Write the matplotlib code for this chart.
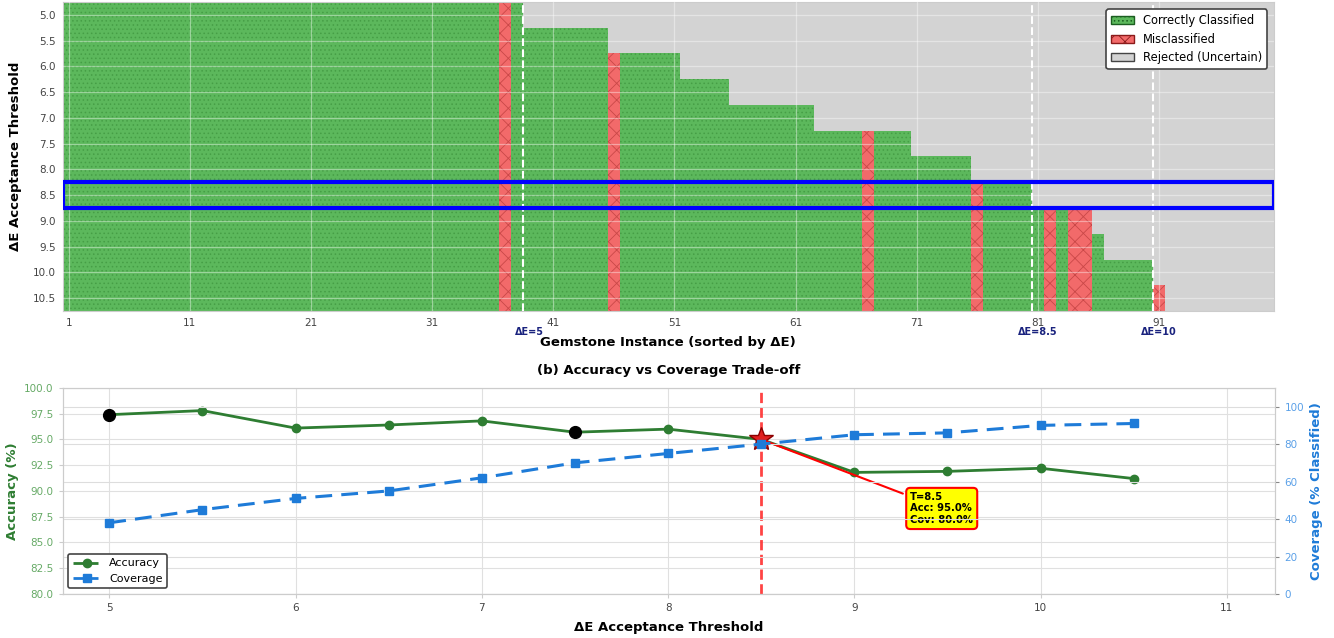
import numpy as np
import matplotlib
matplotlib.use("Agg")
from matplotlib import pyplot
from matplotlib.patches import Patch, Rectangle
from matplotlib.lines import Line2D
from matplotlib.transforms import blended_transform_factory

# -----------------------------------------------------------------------------
# data
thresholds = [5.0, 5.5, 6.0, 6.5, 7.0, 7.5, 8.0, 8.5, 9.0, 9.5, 10.0, 10.5]
n_accepted = [38, 45, 51, 55, 62, 70, 75, 80, 85, 86, 90, 91]
misclassified = [37, 46, 67, 76, 82, 84, 85, 91]
n_instances = 100

accuracy = [97.4, 97.8, 96.1, 96.4, 96.8, 95.7, 96.0, 95.0, 91.8, 91.9, 92.2, 91.2]
coverage = [38, 45, 51, 55, 62, 70, 75, 80, 85, 86, 90, 91]
marked_t = [5.0, 7.5]
marked_acc = [97.4, 95.7]

chosen_t = 8.5
chosen_acc = 95.0
chosen_cov = 80.0
ref_lines = [(38.5, 39, "ΔE=5"), (80.5, 81, "ΔE=8.5"), (90.5, 91, "ΔE=10")]

GREEN = "#5cb85c"
GREEN_H = "#469e46"
RED = "#f26a6a"
RED_H = "#c94848"
GREY = "#d3d3d3"
ACC_C = "#2e7d32"
COV_C = "#1e7bd8"

pyplot.rcParams["hatch.linewidth"] = 0.6
fig = pyplot.figure(figsize=(13.34, 6.38), dpi=100)

# -----------------------------------------------------------------------------
# (a) acceptance map
ax = fig.add_axes([0.047, 0.5125, 0.908, 0.4845])
ax.set_facecolor(GREY)
h = 0.5
for t, n in zip(thresholds, n_accepted):
    # grey (rejected) tail
    ax.barh(t, n_instances - n, left=n + 0.5, height=h, color=GREY, linewidth=0)
    # accepted instances, split into runs
    start = 1
    for i in range(1, n + 2):
        if i > n or i in misclassified:
            if i > start:
                ax.barh(t, i - start, left=start - 0.5, height=h, color=GREEN,
                        edgecolor=GREEN_H, linewidth=0, hatch="....")
            if i <= n:
                ax.barh(t, 1, left=i - 0.5, height=h, color=RED,
                        edgecolor=RED_H, linewidth=0, hatch="xx")
            start = i + 1

for x, xl, lab in ref_lines:
    ax.axvline(x, color="white", linestyle="--", linewidth=1.5, zorder=4)
trans = blended_transform_factory(ax.transData, ax.transAxes)
for x, xl, lab in ref_lines:
    ax.text(xl, -0.068, lab, transform=trans, ha="center", va="center",
            fontsize=7, fontweight="bold", color="#1a237e")

ax.add_patch(Rectangle((0.5, chosen_t - 0.25), n_instances, 0.5, fill=False,
                       edgecolor="#0000ff", linewidth=3, zorder=5))

ax.set_xlim(0.5, n_instances + 0.5)
ax.set_ylim(10.75, 4.75)
ax.set_xticks(np.arange(1, n_instances, 10))
ax.set_yticks(thresholds)
ax.set_yticklabels([f"{t:.1f}" for t in thresholds])
ax.set_axisbelow(False)
ax.grid(color="white", alpha=0.4, linewidth=0.9)
ax.tick_params(length=0, labelsize=7.5, labelcolor="#444444", pad=5)
for s in ax.spines.values():
    s.set_color("#cccccc")
ax.set_xlabel("Gemstone Instance (sorted by ΔE)", fontsize=9.5, fontweight="bold",
              labelpad=6)
ax.set_ylabel("ΔE Acceptance Threshold", fontsize=9.5, fontweight="bold", labelpad=8)

handles = [Patch(facecolor=GREEN, edgecolor="#1b5e20", hatch="....", label="Correctly Classified"),
           Patch(facecolor=RED, edgecolor="#8b1a1a", hatch="xx", label="Misclassified"),
           Patch(facecolor=GREY, edgecolor="#444444", label="Rejected (Uncertain)")]
leg = ax.legend(handles=handles, loc="upper right", fontsize=8.3, frameon=True,
                fancybox=True, framealpha=1, edgecolor="#444444",
                bbox_to_anchor=(0.999, 0.995))
leg.get_frame().set_linewidth(1.2)

# -----------------------------------------------------------------------------
# (b) accuracy vs coverage
ax1 = fig.add_axes([0.047, 0.069, 0.909, 0.323])
ax2 = ax1.twinx()

ax1.plot(thresholds, accuracy, "-o", color=ACC_C, linewidth=2, markersize=6, zorder=3)
ax1.plot(marked_t, marked_acc, "o", color="black", markersize=8.5, zorder=4)
ax2.plot(thresholds, coverage, "--s", color=COV_C, linewidth=2.2, markersize=6,
         dashes=(5.5, 3), zorder=3)

ax1.axvline(chosen_t, color="#ff3030", linestyle="--", linewidth=2, alpha=0.9, zorder=2)
ax1.plot([chosen_t], [chosen_acc], marker="*", markersize=18, color="#e02020",
         markeredgecolor="#8b0000", markeredgewidth=1, zorder=5)
ax1.annotate(f"T={chosen_t}\nAcc: {chosen_acc:.1f}%\nCov: {chosen_cov:.1f}%",
             xy=(chosen_t, chosen_acc), xytext=(9.3, 88.3),
             fontsize=7.2, fontweight="bold", ha="left", va="center",
             bbox=dict(boxstyle="round,pad=0.4", facecolor="yellow",
                       edgecolor="red", linewidth=1.5),
             arrowprops=dict(arrowstyle="-", color="red", linewidth=1.5),
             zorder=6)

ax1.set_xlim(4.75, 11.26)
ax1.set_ylim(80, 100)
ax2.set_ylim(0, 110)
ax1.set_xticks(range(5, 12))
ax1.set_yticks(np.arange(80, 100.1, 2.5))
ax1.set_yticklabels([f"{v:.1f}" for v in np.arange(80, 100.1, 2.5)])
ax2.set_yticks(range(0, 101, 20))

ax1.grid(color="#e0e0e0", linewidth=0.8)
ax2.grid(color="#dddddd", linewidth=0.8)
ax1.set_axisbelow(True)
ax1.tick_params(axis="y", labelsize=7.5, labelcolor="#66aa66", color="#cccccc", length=3)
ax1.tick_params(axis="x", labelsize=7.5, labelcolor="#444444", color="#cccccc", length=3)
ax2.tick_params(axis="y", labelsize=7.5, labelcolor="#5aa0e8", color="#888888", length=3)
for a in (ax1, ax2):
    for s in a.spines.values():
        s.set_color("#cccccc")

ax1.set_xlabel("ΔE Acceptance Threshold", fontsize=9.5, fontweight="bold", labelpad=6)
ax1.set_ylabel("Accuracy (%)", fontsize=9.5, fontweight="bold", color=ACC_C)
ax2.set_ylabel("Coverage (% Classified)", fontsize=9.5, fontweight="bold", color=COV_C)
ax1.set_title("(b) Accuracy vs Coverage Trade-off", fontsize=9.5, fontweight="bold",
              pad=10)

lh = [Line2D([], [], color=ACC_C, linestyle="--", marker="o", linewidth=2, label="Accuracy"),
      Line2D([], [], color=COV_C, linestyle="--", marker="s", linewidth=2, label="Coverage")]
leg2 = ax2.legend(handles=lh, loc="lower left", fontsize=8, frameon=True,
                  fancybox=True, framealpha=1, edgecolor="#444444", handlelength=2.5)
leg2.get_frame().set_linewidth(1.2)

fig.savefig("out.png", dpi=100)
